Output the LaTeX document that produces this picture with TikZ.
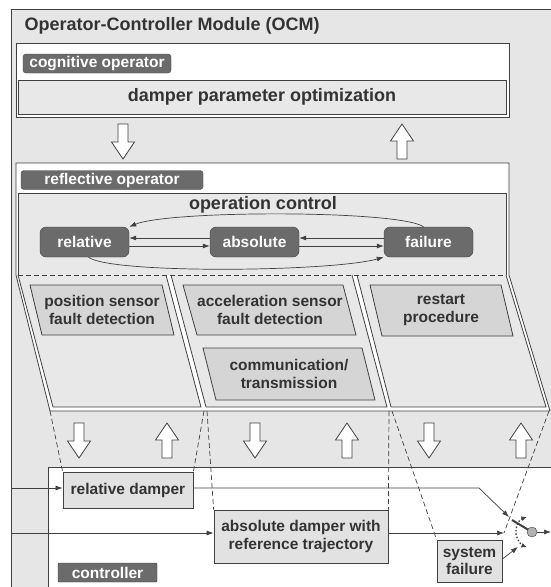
\documentclass[tikz,border=0pt]{standalone}
\usepackage{fontspec}
\setmainfont{Liberation Sans}
\usetikzlibrary{arrows.meta, positioning}

\definecolor{ocmgray}{HTML}{E6E6E6}
\definecolor{fieldgray}{HTML}{E8E8E8}
\definecolor{taskgray}{HTML}{D5D5D5}
\definecolor{ctrlgray}{HTML}{E2E2E2}
\definecolor{labelgray}{HTML}{6B6B6B}
\definecolor{linegray}{HTML}{404040}
\definecolor{textgray}{HTML}{333333}

\tikzset{
  every node/.style={font=\bfseries\fontsize{15.5}{17.5}\selectfont, text=textgray},
  edgeline/.style={draw=linegray, line width=0.8pt},
  tag/.style={draw=linegray, fill=labelgray, text=white, rounded corners=3pt, inner sep=0pt, minimum height=19pt},
  state/.style={draw=linegray, fill=labelgray, text=white, rounded corners=6pt, minimum width=89pt, minimum height=30pt, inner sep=0pt},
  task/.style={align=center, inner sep=0pt},
  ctrlblock/.style={edgeline, fill=ctrlgray, align=center, inner sep=0pt},
  conn/.style={draw=linegray, line width=0.7pt, -{Latex[length=7pt,width=5pt]}},
  guide/.style={draw=linegray, dash pattern=on 5pt off 3pt, line width=0.7pt},
  hollow/.style={draw=linegray, fill=white, line width=0.8pt, line join=miter},
  downarrow/.pic={\draw[hollow] (-5,0) -- (-5,18) -- (-11.5,18) -- (0,35) -- (11.5,18) -- (5,18) -- (5,0) -- cycle;},
  uparrow/.pic={\draw[hollow] (-5,35) -- (-5,17) -- (-11.5,17) -- (0,0) -- (11.5,17) -- (5,17) -- (5,35) -- cycle;},
}

\begin{document}
\begin{tikzpicture}[x=1pt, y=-1pt]
\useasboundingbox (0,0) rectangle (551,587);

% OCM frame
\draw[edgeline, fill=ocmgray] (11,9) rectangle (560,600);
\node[anchor=west, font=\bfseries\fontsize{18}{20}\selectfont] (ocm) at (21,26) {Operator-Controller Module (OCM)};

% cognitive operator
\draw[edgeline, fill=white] (16,43) rectangle (509,117);
\node[tag, minimum width=148pt] (cogtag) at (97,63.5) {cognitive operator};
\node[edgeline, fill=fieldgray, minimum width=488pt, minimum height=34pt, inner sep=0pt,
      font=\bfseries\fontsize{18}{20}\selectfont] (optim) at (262,97) {damper parameter optimization};

% big arrows cognitive <-> reflective
\pic at (123,124) {downarrow};
\pic at (402,124) {uparrow};

% reflective operator
\draw[edgeline, fill=white] (16,163) -- (509,163) -- (509,275) -- (550,411) -- (50,411) -- (16,275) -- cycle;
\node[tag, minimum width=182pt] (reftag) at (112,180) {reflective operator};

% operation control field and columns
\fill[fieldgray] (18,193) rectangle (506,275);
\draw[edgeline] (18,275) -- (18,193) -- (506,193) -- (506,275);
\draw[edgeline, fill=fieldgray] (18,275) -- (53,407) -- (201,407) -- (166,275);
\draw[edgeline, fill=fieldgray] (171,275) -- (206,407) -- (387,407) -- (352,275);
\draw[edgeline, fill=fieldgray] (357,275) -- (391,407) -- (546,407) -- (506,275);
\draw[guide] (18,275) -- (506,275);

\node[font=\bfseries\fontsize{18}{20}\selectfont] (opctrl) at (263,205) {operation control};

% tasks
\draw[edgeline, fill=taskgray] (30,285) -- (162,285) -- (174,335) -- (42,335) -- cycle;
\node[task] (possens) at (102,310) {position sensor\\fault detection};
\draw[edgeline, fill=taskgray] (183,285) -- (343,285) -- (356,335) -- (197,335) -- cycle;
\node[task] (accsens) at (270,310) {acceleration sensor\\fault detection};
\draw[edgeline, fill=taskgray] (203,348) -- (362,348) -- (375,400) -- (216,400) -- cycle;
\node[task] (comm) at (289,374) {communication/\\transmission};
\draw[edgeline, fill=taskgray] (370,285) -- (501,285) -- (513,336) -- (382,336) -- cycle;
\node[task] (restart) at (441,310) {restart\\procedure};

% states
\node[state] (rel) at (84.5,242) {relative};
\node[state] (abs) at (254.5,242) {absolute};
\node[state] (fail) at (428.5,242) {failure};

\draw[conn] ([yshift=4pt]abs.west) -- ([yshift=4pt]rel.east);
\draw[conn] ([yshift=-4pt]rel.east) -- ([yshift=-4pt]abs.west);
\draw[conn] ([yshift=4pt]fail.west) -- ([yshift=4pt]abs.east);
\draw[conn] ([yshift=-4pt]abs.east) -- ([yshift=-4pt]fail.west);
\draw[conn] ([xshift=-5pt]fail.north) .. controls (400,210) and (170,210) .. (rel.north east);
\draw[conn] ([xshift=4pt]rel.south) .. controls (110,274) and (330,272) .. (fail.south west);

% big arrows reflective <-> controller
\foreach \x in {79,255,429}
{
    \pic at (\x,423) {downarrow};
}
\foreach \x in {167,347,521}
{
    \pic at (\x,423) {uparrow};
}

% controller
\draw[edgeline, fill=white] (48,467) rectangle (560,600);
\node[ctrlblock, minimum width=130pt, minimum height=36pt] (reldamp) at (128,490) {relative damper};
\node[ctrlblock, minimum width=174pt, minimum height=53pt] (absdamp) at (301,536.5) {absolute damper with\\reference trajectory};
\node[ctrlblock, minimum width=65pt, minimum height=42pt] (sysfail) at (469.5,561) {system\\failure};
\node[tag, rounded corners=1pt, minimum width=99pt] (ctrltag) at (107.5,572.5) {controller};

% switch
\coordinate (in1) at (12,488);
\coordinate (in2) at (12,533);
\coordinate (bend) at (479,488);
\coordinate (swtop) at (509,517);
\coordinate (swin) at (504,533);
\coordinate (swbot) at (518,547);
\coordinate (lever) at (512,520);
\coordinate (hinge) at (532,532);
\coordinate (out) at (551,532);

\draw[linegray, line width=2pt] (lever) -- (hinge);
\node[circle, draw=linegray, fill=gray!60, minimum size=10pt, inner sep=0pt] (pivot) at (hinge) {};
\draw[linegray, line width=1.4pt, dotted, {Latex[length=5pt,width=5pt]}-{Latex[length=5pt,width=5pt]}]
    ([shift={(250:16)}]hinge) arc[start angle=250, end angle=110, radius=16];

\draw[conn] (in1) -- (in1 -| reldamp.west);
\draw[conn] (in2) -- (in2 -| absdamp.west);
\draw[conn] (reldamp.east |- bend) -- (bend) -- (swtop);
\draw[conn] (absdamp.east |- swin) -- (swin);
\draw[conn] ([yshift=2pt]sysfail.east) -- (swbot);
\draw[conn] (pivot.east) -- (out);

% dashed guides from columns
\coordinate (c1l) at (50,411);
\coordinate (c1r) at (204,411);
\coordinate (c2l) at (207,411);
\coordinate (c2r) at (389,411);
\coordinate (c3l) at (392,411);
\coordinate (c3r) at (549,411);
\draw[guide] (c1l) -- (reldamp.north west);
\draw[guide] (c1r) -- (reldamp.north east);
\draw[guide] (c2l) -- (absdamp.north west);
\draw[guide] (c2r) -- (absdamp.north east);
\draw[guide] (c3l) -- (sysfail.north west);
\draw[guide] (c3r) -- (swin);

\end{tikzpicture}
\end{document}
